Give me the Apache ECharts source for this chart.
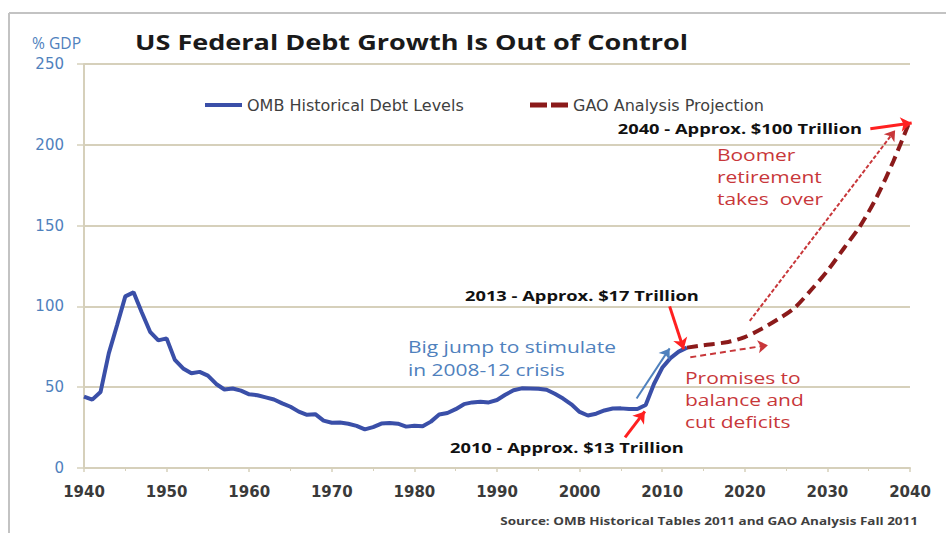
<!DOCTYPE html>
<html><head><meta charset="utf-8">
<script src="https://cdn.jsdelivr.net/npm/echarts@6/dist/echarts.min.js"></script>
<style>html,body{margin:0;padding:0;background:#fff}#c{width:946px;height:533px}</style>
</head><body><div id="c"></div>
<script>
// ---- data ----
const ombYears = [1940,1941,1942,1943,1944,1945,1946,1947,1948,1949,1950,1951,1952,1953,1954,1955,1956,1957,1958,1959,
  1960,1961,1962,1963,1964,1965,1966,1967,1968,1969,1970,1971,1972,1973,1974,1975,1976,1977,1978,1979,
  1980,1981,1982,1983,1984,1985,1986,1987,1988,1989,1990,1991,1992,1993,1994,1995,1996,1997,1998,1999,
  2000,2001,2002,2003,2004,2005,2006,2007,2008,2009,2010,2011,2012,2013];
const ombDebt = [44.2,42.3,47.0,70.9,88.3,106.2,108.7,96.2,84.3,79.0,80.2,66.9,61.6,58.6,59.5,57.2,52.0,48.6,49.2,47.9,
  45.6,45.0,43.7,42.4,40.0,37.9,34.9,32.9,33.3,29.3,28.0,28.1,27.4,26.1,23.9,25.3,27.5,27.8,27.4,25.6,
  26.1,25.8,28.7,33.1,34.0,36.4,39.5,40.6,41.0,40.6,42.1,45.3,48.1,49.3,49.2,49.1,48.4,45.9,43.0,39.4,
  34.7,32.5,33.6,35.6,36.8,36.9,36.5,36.5,39.0,52.0,62.0,68.0,72.0,74.5];
const gaoYears = [2013,2015,2018,2020,2022,2024,2026,2028,2030,2032,2034,2036,2038,2040];
const gaoDebt  = [74.5,76,78,81,86,92,99,110,122,136,150,168,190,215];
const xTicks = [1940,1950,1960,1970,1980,1990,2000,2010,2020,2030,2040];
const yTicks = [0,50,100,150,200,250];
const seriesNames = ['OMB Historical Debt Levels','GAO Analysis Projection'];
// annotation arrows (data coordinates: [year, %GDP])
const arrowBoomer   = [[2020.6, 91],[2038.2, 209]];
const arrowPromises = [[2013.4, 68.5],[2022.8, 76]];
const arrow2013     = [[2010.9, 100],[2012.6, 73.5]];
const arrow2010     = [[2005.5, 19],[2007.9, 35]];
const arrow2040     = [[2035.2, 210],[2040.2, 213.5]];
const arrowJump     = [[2006.9, 43],[2010.9, 74]];

// ---- chart ----
const zip = (xs, ys) => xs.map((x, i) => [x, ys[i]]);
const gridC = '#d6d0bb';
const FF = 'Open Sans';
const red = '#c8373a';
const blueTxt = '#4f81bd';
const chart = echarts.init(document.getElementById('c'), null, {renderer: 'svg'});
const arrowSeries = (coords, color, width, type, size) => ({
  type: 'lines', coordinateSystem: 'cartesian2d', z: 6,
  symbol: ['none', 'arrow'], symbolSize: size || 10, silent: true,
  lineStyle: {color: color, width: width, type: type, opacity: 1},
  data: [{coords: coords}]
});
const txt = (x, y, text, font, fill, sx, extra) => ({
  type: 'text', x: x, y: y, scaleX: sx, scaleY: 1,
  style: Object.assign({text: text, font: font, fill: fill, textVerticalAlign: 'middle'}, extra || {})
});
chart.setOption({
  animation: false,
  textStyle: {fontFamily: FF},
  grid: {left: 84, right: 36, top: 64, bottom: 65},
  legend: [
    {left: 200, top: 92, itemWidth: 37, itemHeight: 4, icon: 'rect', data: [seriesNames[0]],
     textStyle: {color: '#3f3f3f', fontSize: 16, fontFamily: 'DejaVu Sans'}},
    {left: 525, top: 92, itemWidth: 38, itemHeight: 5, icon: 'path://M0,0H17V5H0Z M21,0H38V5H21Z', data: [seriesNames[1]],
     textStyle: {color: '#3f3f3f', fontSize: 16, fontFamily: 'DejaVu Sans'}}
  ],
  xAxis: {
    type: 'value', min: xTicks[0], max: xTicks[xTicks.length - 1], interval: 10,
    axisLine: {lineStyle: {color: gridC, width: 2}},
    axisTick: {show: true, length: 4, lineStyle: {color: gridC, width: 1.5}},
    minorTick: {show: true, splitNumber: 2, length: 3, lineStyle: {color: gridC}},
    splitLine: {show: false},
    axisLabel: {color: '#3a3a3a', fontSize: 15, fontWeight: 'bold', margin: 16, fontFamily: 'DejaVu Sans',
      formatter: v => String(v)}
  },
  yAxis: {
    type: 'value', min: yTicks[0], max: yTicks[yTicks.length - 1], interval: 50,
    axisLine: {show: true, lineStyle: {color: gridC, width: 2}},
    axisTick: {show: true, length: 7, lineStyle: {color: gridC, width: 1.5}},
    splitLine: {lineStyle: {color: gridC, width: 2}},
    axisLabel: {color: blueTxt, fontSize: 15, margin: 20, fontFamily: 'DejaVu Sans'}
  },
  series: [
    {name: seriesNames[0], type: 'line', data: zip(ombYears, ombDebt), showSymbol: false, symbol: 'none',
     lineStyle: {color: '#3a4fa8', width: 4}, itemStyle: {color: '#3a4fa8'}, z: 4},
    {name: seriesNames[1], type: 'line', data: zip(gaoYears, gaoDebt), showSymbol: false, symbol: 'none', smooth: 0.3,
     lineStyle: {color: '#8b1a1a', width: 4, type: [11, 6]}, itemStyle: {color: '#8b1a1a'}, z: 5},
    arrowSeries(arrowBoomer, red, 2, [4, 2]),
    arrowSeries(arrowPromises, red, 2, [6, 4]),
    arrowSeries(arrow2013, '#ff2020', 3, 'solid', 11),
    arrowSeries(arrow2010, '#ff2020', 3, 'solid', 11),
    arrowSeries(arrow2040, '#ff2020', 3, 'solid', 11),
    arrowSeries(arrowJump, blueTxt, 2, 'solid')
  ],
  graphic: [
    {type: 'line', shape: {x1: 9, y1: 13, x2: 946, y2: 13}, style: {stroke: '#c3c3c3', lineWidth: 2}},
    {type: 'line', shape: {x1: 9, y1: 13, x2: 9, y2: 533}, style: {stroke: '#c3c3c3', lineWidth: 2}},
    txt(32, 43, '% GDP', '17px "Open Sans"', blueTxt, 0.92),
    txt(135, 42, 'US Federal Debt Growth Is Out of Control', 'bold 22px "Open Sans"', '#1a1a1a', 1.23),
    txt(862, 128, '2040 - Approx. $100 Trillion', 'bold 15px "Open Sans"', '#111', 1.22, {textAlign: 'right'}),
    txt(717, 144, 'Boomer\nretirement\ntakes  over', '16px "Open Sans"', red, 1.31, {lineHeight: 22, textVerticalAlign: 'top'}),
    txt(465, 295, '2013 - Approx. $17 Trillion', 'bold 15px "Open Sans"', '#111', 1.22),
    txt(408, 335, 'Big jump to stimulate\nin 2008-12 crisis', '16px "Open Sans"', blueTxt, 1.31, {lineHeight: 23, textVerticalAlign: 'top'}),
    txt(685, 367, 'Promises to\nbalance and\ncut deficits', '16px "Open Sans"', red, 1.31, {lineHeight: 22, textVerticalAlign: 'top'}),
    txt(450, 447, '2010 - Approx. $13 Trillion', 'bold 15px "Open Sans"', '#111', 1.22),
    txt(918, 521, 'Source: OMB Historical Tables 2011 and GAO Analysis Fall 2011', 'bold 10px "Open Sans"', '#3f3f3f', 1.35, {textAlign: 'right'})
  ]
});
</script></body></html>
